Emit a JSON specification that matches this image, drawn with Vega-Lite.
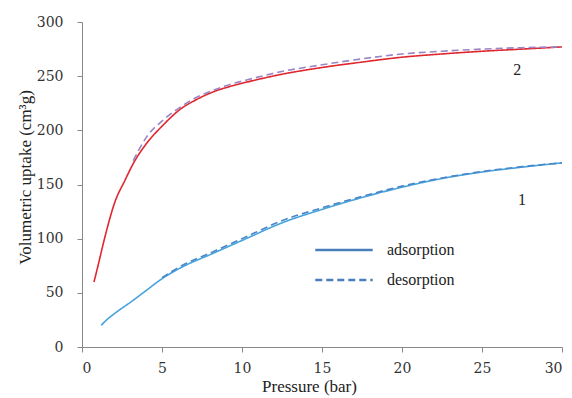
{
  "$schema": "https://vega.github.io/schema/vega-lite/v6.json",
  "width": 480,
  "height": 325,
  "autosize": {"type": "none"},
  "padding": {"left": 82, "top": 22, "right": 10, "bottom": 51},
  "background": "white",
  "config": {
    "view": {"stroke": null},
    "font": "Liberation Serif",
    "axis": {"grid": false, "domainColor": "#888888", "tickColor": "#888888", "labelColor": "#333333", "titleColor": "#222222", "labelFont": "DejaVu Serif", "titleFont": "Liberation Serif", "labelFontSize": 14, "titleFontSize": 17, "titleFontWeight": "normal", "tickSize": 5}
  },
  "datasets": {
    "curves": [
      {"x": 0.75, "y": 60, "series": "2-ads", "kind": "adsorption"},
      {"x": 1.0, "y": 75, "series": "2-ads", "kind": "adsorption"},
      {"x": 1.44, "y": 102, "series": "2-ads", "kind": "adsorption"},
      {"x": 2.06, "y": 134, "series": "2-ads", "kind": "adsorption"},
      {"x": 2.69, "y": 154, "series": "2-ads", "kind": "adsorption"},
      {"x": 3.21, "y": 169.5, "series": "2-ads", "kind": "adsorption"},
      {"x": 4.04, "y": 188, "series": "2-ads", "kind": "adsorption"},
      {"x": 5.08, "y": 205, "series": "2-ads", "kind": "adsorption"},
      {"x": 6.1, "y": 219, "series": "2-ads", "kind": "adsorption"},
      {"x": 7.17, "y": 228.5, "series": "2-ads", "kind": "adsorption"},
      {"x": 8.2, "y": 235.5, "series": "2-ads", "kind": "adsorption"},
      {"x": 9.25, "y": 240.5, "series": "2-ads", "kind": "adsorption"},
      {"x": 10.3, "y": 244.5, "series": "2-ads", "kind": "adsorption"},
      {"x": 12.4, "y": 251.5, "series": "2-ads", "kind": "adsorption"},
      {"x": 15, "y": 258, "series": "2-ads", "kind": "adsorption"},
      {"x": 17.5, "y": 263, "series": "2-ads", "kind": "adsorption"},
      {"x": 20, "y": 267.5, "series": "2-ads", "kind": "adsorption"},
      {"x": 22.5, "y": 270.5, "series": "2-ads", "kind": "adsorption"},
      {"x": 25, "y": 273, "series": "2-ads", "kind": "adsorption"},
      {"x": 27.5, "y": 275, "series": "2-ads", "kind": "adsorption"},
      {"x": 30, "y": 277, "series": "2-ads", "kind": "adsorption"},

      {"x": 3.2, "y": 172, "series": "2-des", "kind": "desorption"},
      {"x": 4.04, "y": 194, "series": "2-des", "kind": "desorption"},
      {"x": 5.08, "y": 209.6, "series": "2-des", "kind": "desorption"},
      {"x": 6.1, "y": 221, "series": "2-des", "kind": "desorption"},
      {"x": 7.17, "y": 230.5, "series": "2-des", "kind": "desorption"},
      {"x": 8.2, "y": 237, "series": "2-des", "kind": "desorption"},
      {"x": 9.25, "y": 242.4, "series": "2-des", "kind": "desorption"},
      {"x": 10.3, "y": 246.5, "series": "2-des", "kind": "desorption"},
      {"x": 12.4, "y": 254, "series": "2-des", "kind": "desorption"},
      {"x": 15, "y": 260.5, "series": "2-des", "kind": "desorption"},
      {"x": 17.5, "y": 266, "series": "2-des", "kind": "desorption"},
      {"x": 20, "y": 270.5, "series": "2-des", "kind": "desorption"},
      {"x": 22.5, "y": 273, "series": "2-des", "kind": "desorption"},
      {"x": 25, "y": 275, "series": "2-des", "kind": "desorption"},
      {"x": 27.5, "y": 276.3, "series": "2-des", "kind": "desorption"},
      {"x": 30, "y": 277, "series": "2-des", "kind": "desorption"},

      {"x": 1.2, "y": 20, "series": "1-ads", "kind": "adsorption"},
      {"x": 1.54, "y": 25, "series": "1-ads", "kind": "adsorption"},
      {"x": 2, "y": 30.5, "series": "1-ads", "kind": "adsorption"},
      {"x": 3, "y": 41, "series": "1-ads", "kind": "adsorption"},
      {"x": 4, "y": 52, "series": "1-ads", "kind": "adsorption"},
      {"x": 4.9, "y": 62, "series": "1-ads", "kind": "adsorption"},
      {"x": 6.1, "y": 72.6, "series": "1-ads", "kind": "adsorption"},
      {"x": 8.2, "y": 86.5, "series": "1-ads", "kind": "adsorption"},
      {"x": 10.3, "y": 100.3, "series": "1-ads", "kind": "adsorption"},
      {"x": 12.4, "y": 114, "series": "1-ads", "kind": "adsorption"},
      {"x": 15, "y": 127, "series": "1-ads", "kind": "adsorption"},
      {"x": 17.5, "y": 138, "series": "1-ads", "kind": "adsorption"},
      {"x": 20, "y": 147.5, "series": "1-ads", "kind": "adsorption"},
      {"x": 22.5, "y": 155.5, "series": "1-ads", "kind": "adsorption"},
      {"x": 25, "y": 161.5, "series": "1-ads", "kind": "adsorption"},
      {"x": 27.5, "y": 166, "series": "1-ads", "kind": "adsorption"},
      {"x": 30, "y": 170, "series": "1-ads", "kind": "adsorption"},

      {"x": 5, "y": 64, "series": "1-des", "kind": "desorption"},
      {"x": 6.1, "y": 74, "series": "1-des", "kind": "desorption"},
      {"x": 8.2, "y": 88, "series": "1-des", "kind": "desorption"},
      {"x": 10.3, "y": 102, "series": "1-des", "kind": "desorption"},
      {"x": 12.4, "y": 116, "series": "1-des", "kind": "desorption"},
      {"x": 15, "y": 128.5, "series": "1-des", "kind": "desorption"},
      {"x": 17.5, "y": 139, "series": "1-des", "kind": "desorption"},
      {"x": 20, "y": 148.5, "series": "1-des", "kind": "desorption"},
      {"x": 22.5, "y": 156, "series": "1-des", "kind": "desorption"},
      {"x": 25, "y": 162, "series": "1-des", "kind": "desorption"},
      {"x": 27.5, "y": 166.5, "series": "1-des", "kind": "desorption"},
      {"x": 30, "y": 170, "series": "1-des", "kind": "desorption"}
    ],
    "labels": [
      {"x": 27.2, "y": 256, "label": "2"},
      {"x": 27.5, "y": 136, "label": "1"}
    ]
  },
  "layer": [
    {
      "data": {"name": "curves"},
      "mark": {"type": "line", "strokeWidth": 1.6, "interpolate": "monotone"},
      "encoding": {
        "x": {"field": "x", "type": "quantitative", "scale": {"domain": [0, 30], "nice": false}, "axis": {"values": [0, 5, 10, 15, 20, 25, 30], "title": "Pressure (bar)", "labelPadding": 9, "titleX": 227, "titleY": 39, "titleBaseline": "middle"}},
        "y": {"field": "y", "type": "quantitative", "scale": {"domain": [0, 300], "nice": false}, "axis": {"values": [0, 50, 100, 150, 200, 250, 300], "title": "Volumetric uptake (cm³g)", "labelPadding": 14, "titleX": -57, "titleY": 155, "titleBaseline": "middle", "titleAlign": "center"}},
        "color": {"field": "series", "type": "nominal", "scale": {"domain": ["2-ads", "2-des", "1-ads", "1-des"], "range": ["#e0262e", "#9b85c4", "#45a3de", "#4a86c8"]}, "legend": null},
        "strokeDash": {"field": "kind", "type": "nominal", "scale": {"domain": ["adsorption", "desorption"], "range": [[1, 0], [7, 4]]}, "legend": {"title": null, "orient": "none", "legendX": 246, "legendY": 212, "symbolType": "M-2,0H2", "symbolSize": 825, "symbolStrokeColor": "#4a7ebb", "symbolStrokeWidth": 2.5, "labelFont": "Liberation Serif", "labelFontSize": 16, "labelColor": "#222222", "rowPadding": 6, "labelOffset": 27, "labelExpr": "datum.label == 'desorption' ? ' desorption' : datum.label"}},
        "order": {"field": "x", "type": "quantitative"}
      }
    },
    {
      "data": {"name": "labels"},
      "mark": {"type": "text", "font": "Liberation Serif", "fontSize": 16, "color": "#222222"},
      "encoding": {
        "x": {"field": "x", "type": "quantitative"},
        "y": {"field": "y", "type": "quantitative"},
        "text": {"field": "label"}
      }
    }
  ]
}
